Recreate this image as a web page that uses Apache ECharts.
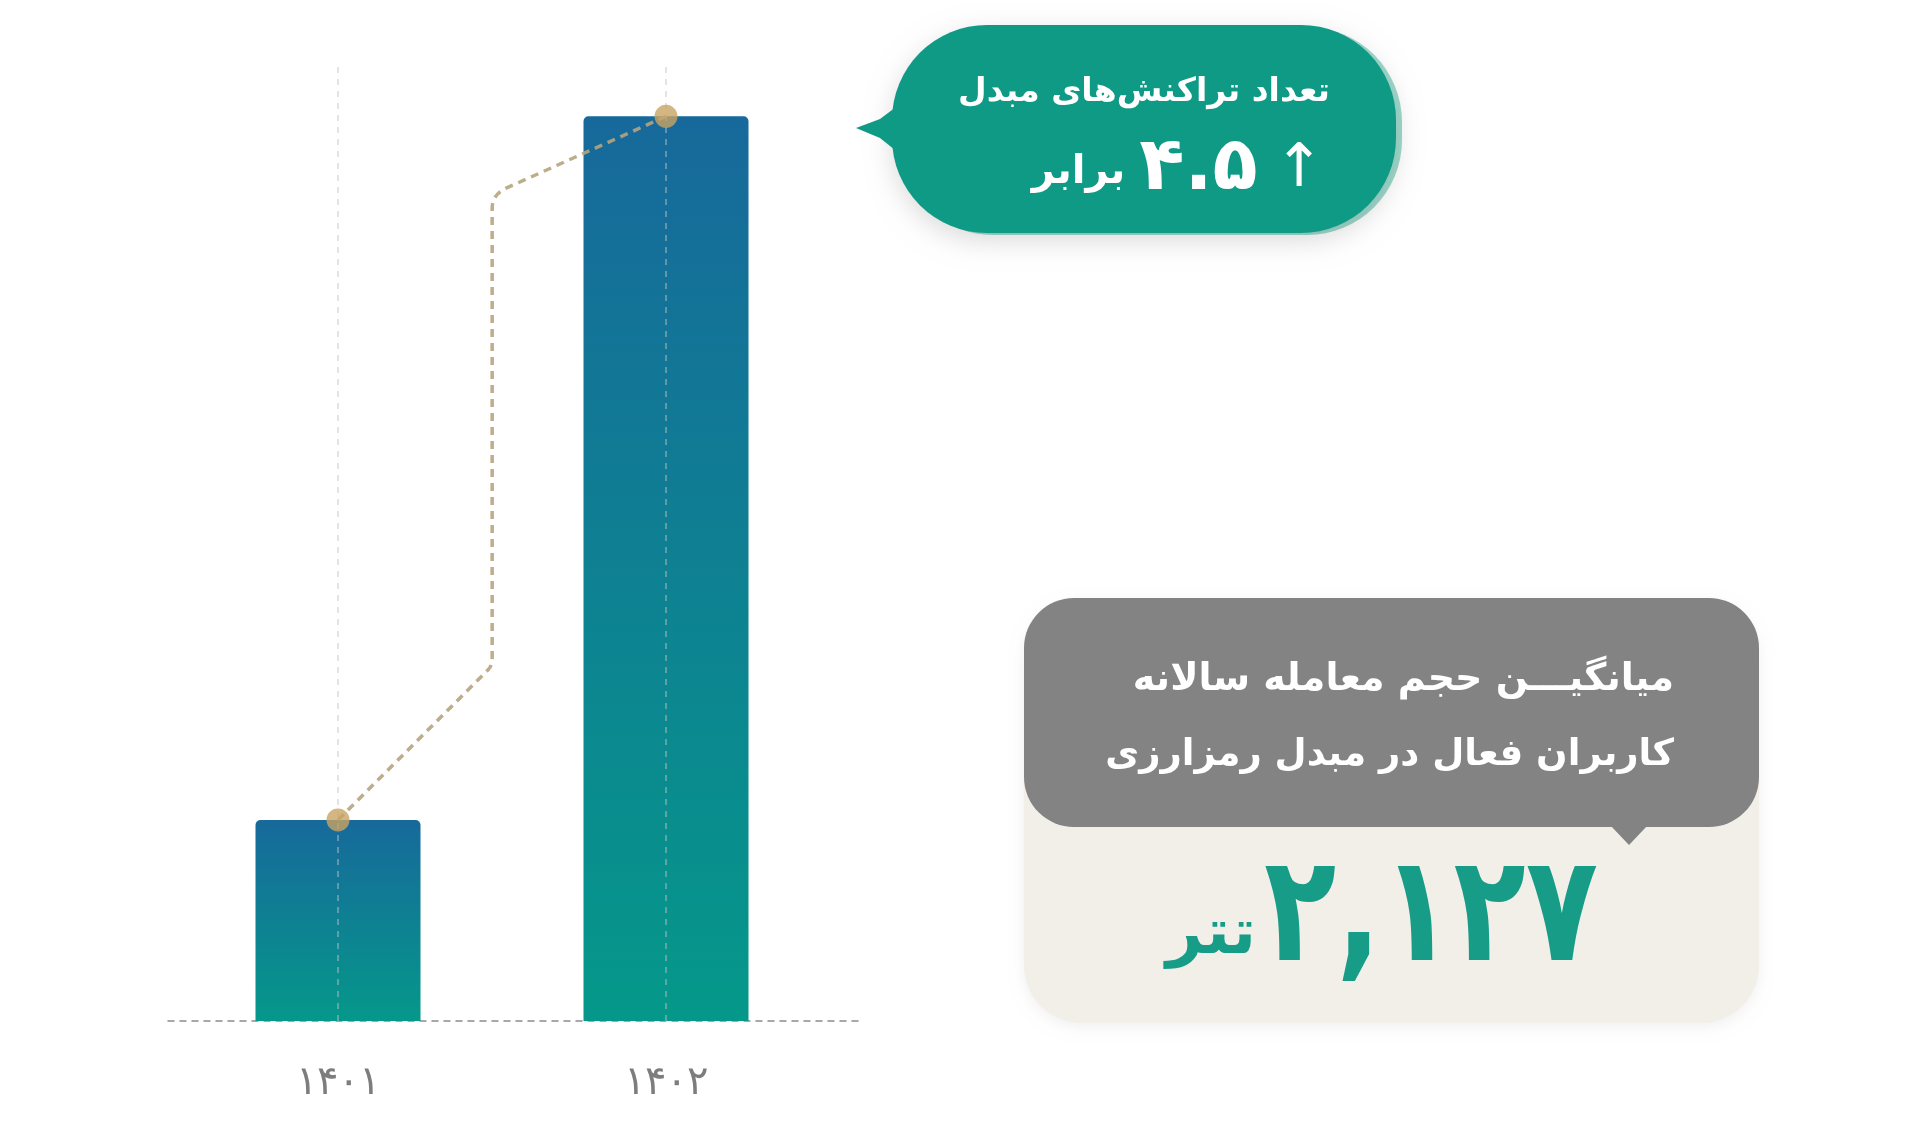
<!DOCTYPE html>
<html lang="fa">
<head>
<meta charset="utf-8">
<title>تعداد تراکنش‌های مبدل</title>
<script src="https://cdn.jsdelivr.net/npm/echarts@6/dist/echarts.min.js"></script>
<style>
  html, body { margin: 0; padding: 0; background: #ffffff; }
  #chart { width: 1920px; height: 1121px; }
</style>
</head>
<body>
<div id="chart"></div>
<script>
// ─── داده‌ها ───
const years = ['۱۴۰۱', '۱۴۰۲'];
const txCount = [1, 4.5];              // تعداد نسبی تراکنش‌ها (۱۴۰۱ = ۱)
const yMax = 4.75;
const growthText = '۴.۵';
const avgVolume = '۲,۱۲۷';
const avgUnit = 'تتر';

const FONT = "'DejaVu Sans', 'Noto Sans', sans-serif";
const TEAL = '#0f9a86';

const chart = echarts.init(document.getElementById('chart'));

// خط چین طلایی بین دو ستون (مورب - عمودی - مورب)
function renderConnector(params, api) {
    if (params.dataIndex !== 0) return;
    const a = api.coord([0, txCount[0]]);
    const b = api.coord([1, txCount[1]]);
    const mx = a[0] + (b[0] - a[0]) * 0.47;
    const y1 = a[1] - (mx - a[0]);
    const y2 = b[1] + (b[0] - mx) * 0.45;
    const r = 14;
    const d = 'M' + a[0] + ' ' + a[1] +
        ' L' + (mx - 4) + ' ' + (y1 + 4) +
        ' Q' + mx + ' ' + y1 + ' ' + mx + ' ' + (y1 - 8) +
        ' L' + mx + ' ' + (y2 + r) +
        ' Q' + mx + ' ' + y2 + ' ' + (mx + r) + ' ' + (y2 - r * 0.45) +
        ' L' + b[0] + ' ' + b[1];
    return {
        type: 'path',
        shape: { pathData: d },
        style: { fill: null, stroke: '#b6a47e', lineWidth: 3.5, lineDash: [8, 6], opacity: 0.9 }
    };
}

const option = {
    backgroundColor: '#ffffff',
    animation: false,
    textStyle: { fontFamily: FONT },
    grid: [
        { left: 174, right: 1090, top: 66, bottom: 100 },
        { left: 168, right: 1060, top: 66, bottom: 100 }   // فقط برای خط پایه
    ],
    xAxis: [
        {
            type: 'category',
            data: years,
            gridIndex: 0,
            axisLine: { show: false },
            axisTick: { show: false },
            axisLabel: { color: '#7d7d7d', fontSize: 40, fontWeight: 300, margin: 43, fontFamily: FONT },
            splitLine: { show: false }
        },
        {
            type: 'value',
            gridIndex: 1,
            min: 0, max: 1,
            axisLine: { show: true, lineStyle: { color: '#8c8c8c', type: [6, 6], width: 1.5 } },
            axisTick: { show: false },
            axisLabel: { show: false },
            splitLine: { show: false }
        }
    ],
    yAxis: [
        { type: 'value', gridIndex: 0, min: 0, max: yMax, show: false },
        { type: 'value', gridIndex: 1, min: 0, max: 1, show: false }
    ],
    series: [
        {
            type: 'bar',
            data: txCount,
            barWidth: 165,
            itemStyle: {
                borderRadius: [5, 5, 0, 0],
                color: new echarts.graphic.LinearGradient(0, 0, 0, 1, [
                    { offset: 0, color: '#17699b' },
                    { offset: 1, color: '#05988a' }
                ])
            },
            markLine: {
                silent: true,
                symbol: ['none', 'none'],
                label: { show: false },
                lineStyle: { type: [6, 6], color: 'rgba(195,195,195,0.6)', width: 1.5 },
                data: [{ xAxis: 0 }, { xAxis: 1 }]
            },
            z: 2
        },
        {
            type: 'custom',
            data: txCount.map(function (v, i) { return [i, v]; }),
            encode: { x: 0, y: 1 },
            renderItem: renderConnector,
            silent: true,
            z: 4
        },
        {
            type: 'scatter',
            data: txCount,
            symbolSize: 23,
            itemStyle: { color: '#c9a464' },
            silent: true,
            z: 5
        }
    ],
    graphic: [
        // ─── حباب سبز ───
        {
            type: 'rect',
            shape: { x: 898, y: 27, width: 504, height: 208, r: 95 },
            style: { fill: '#9fd8cc' },
            z: 10
        },
        {
            type: 'rect',
            shape: { x: 892, y: 25, width: 504, height: 208, r: 95 },
            style: { fill: TEAL, shadowBlur: 26, shadowOffsetY: 8, shadowColor: 'rgba(0,0,0,0.14)' },
            z: 11
        },
        {
            type: 'polygon',
            shape: { points: [[914, 82], [900, 104], [880, 119], [856, 128], [880, 138], [900, 154], [914, 178]] },
            style: { fill: TEAL },
            z: 11
        },
        {
            type: 'text',
            x: 1330, y: 92,
            style: {
                text: 'تعداد تراکنش‌های مبدل',
                fill: '#ffffff', font: 'bold 33px ' + FONT,
                align: 'right', verticalAlign: 'middle'
            },
            z: 12
        },
        {
            type: 'text',
            x: 1324, y: 170,
            style: {
                text: '{w|برابر}{n|' + growthText + '}{a|↑}',
                align: 'right', verticalAlign: 'middle',
                rich: {
                    w: { fill: '#ffffff', fontSize: 40, fontWeight: 'bold', fontFamily: FONT, padding: [6, 14, 0, 0] },
                    n: { fill: '#ffffff', fontSize: 74, fontWeight: 'bold', fontFamily: FONT, padding: [0, 16, 0, 0] },
                    a: { fill: '#ffffff', fontSize: 60, fontWeight: 'normal', fontFamily: FONT }
                }
            },
            z: 12
        },

        // ─── کارت میانگین حجم معامله ───
        {
            type: 'rect',
            shape: { x: 1024, y: 598, width: 735, height: 425, r: 58 },
            style: { fill: '#f1efe8', shadowBlur: 14, shadowOffsetY: 4, shadowColor: 'rgba(0,0,0,0.06)' },
            z: 10
        },
        {
            type: 'rect',
            shape: { x: 1024, y: 598, width: 735, height: 229, r: 50 },
            style: { fill: '#838383' },
            z: 11
        },
        {
            type: 'polygon',
            shape: { points: [[1610, 825], [1648, 825], [1629, 845]] },
            style: { fill: '#838383' },
            z: 11
        },
        {
            type: 'text',
            x: 1674, y: 680,
            style: {
                text: 'میانگیـــن حجم معامله سالانه',
                fill: '#ffffff', font: 'bold 38px ' + FONT,
                align: 'right', verticalAlign: 'middle'
            },
            z: 12
        },
        {
            type: 'text',
            x: 1674, y: 755,
            style: {
                text: 'کاربران فعال در مبدل رمزارزی',
                fill: '#ffffff', font: 'bold 37px ' + FONT,
                align: 'right', verticalAlign: 'middle'
            },
            z: 12
        },
        {
            type: 'text',
            x: 1598, y: 922,
            scaleX: 0.8,
            style: {
                text: avgVolume,
                fill: '#179c87', font: 'bold 148px ' + FONT,
                align: 'right', verticalAlign: 'middle'
            },
            z: 12
        },
        {
            type: 'text',
            x: 1256, y: 968,
            style: {
                text: avgUnit,
                fill: '#179c87', font: 'bold 64px ' + FONT,
                align: 'right', verticalAlign: 'bottom'
            },
            z: 12
        }
    ]
};

chart.setOption(option);
</script>
</body>
</html>
